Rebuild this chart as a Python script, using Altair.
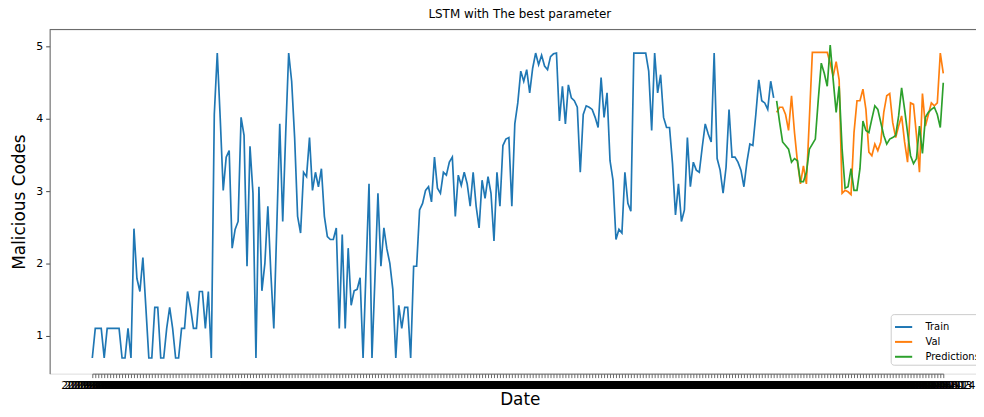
import altair as alt
import pandas as pd

# ---- data ----
dates = pd.date_range("2019-01-01", periods=287, freq="D").strftime("%Y-%m-%d").tolist()

train = [
    0.69, 1.10, 1.10, 1.10, 0.69, 1.10, 1.10, 1.10, 1.10, 1.10,
    0.69, 0.69, 1.10, 0.69, 2.48, 1.79, 1.61, 2.08, 1.39, 0.69,
    0.69, 1.39, 1.39, 0.69, 0.69, 1.10, 1.39, 1.10, 0.69, 0.69,
    1.10, 1.10, 1.61, 1.39, 1.10, 1.10, 1.61, 1.61, 1.10, 1.61,
    0.69, 4.06, 4.91, 4.00, 3.01, 3.47, 3.56, 2.21, 2.47, 2.58,
    4.02, 3.77, 1.96, 3.62, 2.97, 0.69, 3.06, 1.62, 2.00, 2.79,
    1.87, 1.10, 2.50, 3.93, 2.58, 3.80, 4.91, 4.52, 3.74, 2.65,
    2.42, 3.26, 3.20, 3.74, 3.01, 3.26, 3.06, 3.31, 2.65, 2.37,
    2.33, 2.33, 2.49, 1.10, 2.40, 1.10, 2.21, 1.42, 1.62, 1.64,
    1.80, 0.69, 1.90, 3.10, 0.69, 1.80, 2.97, 1.96, 2.49, 2.20,
    2.00, 1.64, 0.69, 1.42, 1.10, 1.39, 1.39, 0.69, 1.96, 1.96,
    2.74, 2.83, 3.01, 3.06, 2.85, 3.47, 3.04, 2.97, 3.26, 3.22,
    3.40, 3.47, 2.65, 3.22, 3.08, 3.26, 3.10, 2.79, 3.26, 2.79,
    2.49, 3.15, 2.90, 3.20, 2.97, 2.31, 3.26, 2.79, 3.63, 3.72,
    3.74, 2.79, 3.93, 4.22, 4.66, 4.52, 4.68, 4.36, 4.70, 4.91,
    4.75, 4.88, 4.73, 4.68, 4.86, 4.90, 4.91, 3.97, 4.45, 3.93,
    4.47, 4.29, 4.25, 4.16, 3.26, 4.06, 4.18, 4.16, 4.13, 4.02,
    3.88, 4.57, 4.02, 4.36, 3.42, 3.15, 2.33, 2.47, 2.42, 3.26,
    2.83, 2.72, 4.91, 4.91, 4.91, 4.91, 4.91, 4.66, 3.84, 4.91,
    4.36, 4.61, 4.02, 3.88, 3.88, 3.38, 2.67, 3.10, 2.58, 2.74,
    3.74, 3.06, 3.40, 3.29, 3.26, 3.61, 3.93, 3.79, 3.68, 4.91,
    3.45, 3.29, 2.97, 3.33, 4.13, 3.47, 3.47, 3.40, 3.29, 3.06,
    3.40, 3.65, 3.63, 4.06, 4.54, 4.25, 4.22, 4.13, 4.52, 4.29,
]

val = [
    4.09, 4.16, 4.16, 4.06, 3.84, 4.32, 3.81, 3.40, 3.10, 3.35,
    3.10, 4.00, 4.92, 4.92, 4.92, 4.92, 4.92, 4.92, 4.77, 4.59,
    4.79, 4.54, 2.97, 3.01, 2.99, 2.95, 3.81, 4.25, 4.25, 4.41,
    4.13, 3.54, 3.49, 3.65, 3.56, 3.68, 4.09, 4.32, 4.35, 3.95,
    3.74, 3.90, 4.04, 3.68, 3.40, 4.22, 4.20, 3.77, 3.26, 4.35,
    3.90, 4.06, 4.22, 4.18, 4.22, 4.91, 4.63,
]

pred = [
    4.25, 3.95, 3.68, 3.63, 3.58, 3.40, 3.45, 3.42, 3.13, 3.13,
    3.26, 3.58, 3.65, 3.72, 4.27, 4.77, 4.63, 4.45, 5.02, 4.54,
    4.09, 4.45, 3.58, 3.04, 3.06, 3.31, 3.01, 3.01, 3.31, 3.97,
    3.84, 3.81, 4.00, 4.18, 4.13, 3.95, 3.77, 3.65, 3.72, 3.74,
    3.77, 4.04, 4.43, 4.13, 3.81, 3.49, 3.38, 3.45, 3.90, 3.52,
    4.02, 4.09, 4.13, 4.16, 4.06, 3.88, 4.50,
]

series_names = ["Train", "Val", "Predictions"]
series_colors = ["#1f77b4", "#ff7f0e", "#2ca02c"]
y_ticks = [1, 2, 3, 4, 5]

n_train = len(train)
rows = []
for i, v in enumerate(train):
    rows.append({"Date": dates[i], "value": v, "series": "Train"})
for j, v in enumerate(val):
    rows.append({"Date": dates[n_train + j], "value": v, "series": "Val"})
for j, v in enumerate(pred):
    rows.append({"Date": dates[n_train + j], "value": v, "series": "Predictions"})
df = pd.DataFrame(rows)

W, H = 934, 347
X0, X1 = 43, 901   # pixel range of the first and last date inside the plot
FONT = "DejaVu Sans"

x_enc = alt.X(
    "Date:O",
    sort=dates,
    scale=alt.Scale(type="point", domain=dates, range=[X0, X1], padding=0),
    axis=alt.Axis(
        title="Date", titleFontSize=17, titleFont=FONT, titleFontWeight="normal",
        titleColor="black", titleX=474, titleY=26, titleAlign="center", titleBaseline="middle",
        labelAngle=0, labelFontSize=11, labelFont=FONT, labelColor="black",
        labelOverlap=False, labelBound=False, labelFlush=False, labelPadding=2,
        tickSize=4, tickColor="#444", tickWidth=0.8,
        domainColor="#666", domainWidth=1, grid=False,
    ),
)

y_enc = alt.Y(
    "value:Q",
    scale=alt.Scale(domain=[0.4735, 5.2365], nice=False, zero=False),
    axis=alt.Axis(
        title="Malicious Codes", titleFontSize=17, titleFont=FONT, titleFontWeight="normal",
        titleColor="black", titleX=-30, titleY=H / 2, titleAngle=270,
        titleAlign="center", titleBaseline="middle",
        values=y_ticks, labelFontSize=11, labelFont=FONT, labelColor="black",
        labelPadding=3, tickSize=4, tickColor="#444",
        domainColor="#666", domainWidth=1, grid=False,
    ),
)

lines = alt.Chart(df).mark_line(strokeWidth=1.7).encode(
    x=x_enc,
    y=y_enc,
    color=alt.Color(
        "series:N",
        scale=alt.Scale(domain=series_names, range=series_colors),
        legend=alt.Legend(
            title=None, orient="none", legendX=848, legendY=287,
            symbolType="stroke", symbolSize=300, symbolStrokeWidth=2,
            labelFontSize=10, labelFont=FONT, labelColor="black", labelOffset=12,
            rowPadding=-3, padding=3, strokeColor="#cccccc", fillColor="white",
            cornerRadius=3,
        ),
    ),
    order=alt.Order("Date:O"),
)

top_border = alt.Chart(pd.DataFrame({"v": [0]})).mark_rule(color="#666", strokeWidth=1).encode(
    x=alt.value(0), x2=alt.value(W), y=alt.value(0)
)

chart = alt.layer(lines, top_border).properties(
    width=W, height=H,
    title=alt.TitleParams(
        "LSTM with The best parameter", fontSize=12, font=FONT, fontWeight="normal",
        color="black", anchor="middle", offset=8, dx=7,
    ),
    autosize=alt.AutoSizeParams(type="none"),
    padding={"left": 42, "top": 20, "right": 0, "bottom": 34},
).configure_view(stroke=None).configure(background="white")

chart.save("out.html", embed_options={"renderer": "svg", "actions": False})
